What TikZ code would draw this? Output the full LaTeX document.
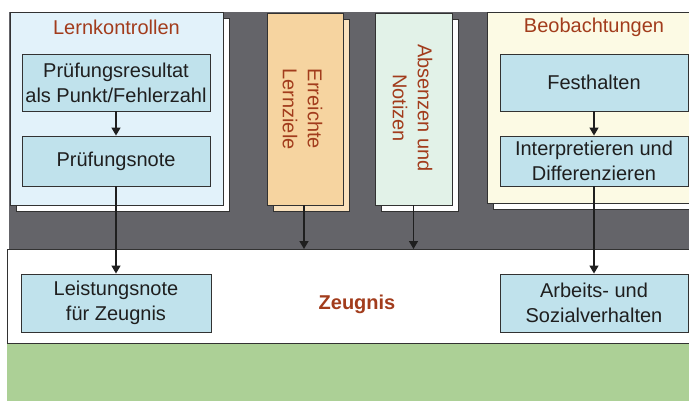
\documentclass[tikz,border=0pt]{standalone}
\usepackage{fontspec}
\setmainfont{Liberation Sans}
\usetikzlibrary{arrows.meta,shadows}

\definecolor{bandgray}{RGB}{100,100,105}
\definecolor{lernblue}{RGB}{226,242,250}
\definecolor{boxblue}{RGB}{192,226,236}
\definecolor{zielorange}{RGB}{246,212,160}
\definecolor{absmint}{RGB}{226,242,232}
\definecolor{beobyellow}{RGB}{252,250,228}
\definecolor{titlebrown}{RGB}{162,60,28}
\definecolor{greenfloor}{RGB}{172,208,150}
\definecolor{edgegray}{RGB}{50,50,50}

\begin{document}
\begin{tikzpicture}[x=1pt, y=-1pt,
    font=\fontsize{20}{25}\selectfont,
    panel/.style={draw=edgegray, line width=0.9pt, rectangle, inner sep=0pt, copy shadow={shadow xshift=6pt, shadow yshift=-6pt, fill=white, draw=edgegray}},
    title/.style={text=titlebrown, inner sep=0pt},
    box/.style={draw=edgegray, line width=0.9pt, fill=boxblue, rectangle, minimum width=188pt, inner sep=0pt, align=center, text=black!88},
    rotlabel/.style={rotate=-90, align=center, text=titlebrown, inner sep=0pt},
    arrow/.style={-{Triangle[length=8pt, width=9pt]}, line width=1.4pt, draw=black!88}
]
\useasboundingbox (0,0) rectangle (689,400);
\clip (0,0) rectangle (689,400);

% background bands
\fill[bandgray] (9,12) rectangle (700,249);
\node[draw=edgegray, line width=0.9pt, fill=white, rectangle, minimum width=693pt, minimum height=94pt, inner sep=0pt, anchor=north west] (zeugbox) at (7,249) {};
\fill[greenfloor] (7,343.5) rectangle (700,405);

% Lernkontrollen
\node[panel, fill=lernblue, minimum width=213pt, minimum height=193pt] (lern) at (116.5,108.5) {};
\node[title] (lerntitle) at (116.5,27) {Lernkontrollen};
\node[box, minimum height=57pt] (pres) at (116,82.5) {Prüfungsresultat\\als Punkt/Fehlerzahl};
\node[box, minimum height=50pt] (pnote) at (116,161) {Prüfungsnote};
\draw[arrow] (pres) -- (pnote);

% Erreichte Lernziele
\node[panel, fill=zielorange, copy shadow={shadow xshift=6pt, shadow yshift=-6pt, fill=zielorange!70!white, draw=edgegray}, minimum width=76pt, minimum height=192pt] (ziele) at (305,109) {};
\node[rotlabel] (zieltext) at (302.5,109) {Erreichte\\Lernziele};

% Absenzen und Notizen
\node[panel, fill=absmint, minimum width=77pt, minimum height=192pt] (absenz) at (413.5,109) {};
\node[rotlabel] (absenztext) at (412.5,108) {Absenzen und\\Notizen};

% Beobachtungen
\node[panel, fill=beobyellow, minimum width=212pt, minimum height=191pt] (beob) at (593,107.5) {};
\node[title] (beobtitle) at (594,27) {Beobachtungen};
\node[box, minimum height=57pt] (festh) at (594,82.5) {Festhalten};
\node[box, minimum height=50pt] (interp) at (594,161) {Interpretieren und\\Differenzieren};
\draw[arrow] (festh) -- (interp);

% Zeugnis
\node[text=titlebrown, font=\fontsize{20}{25}\selectfont\bfseries] (zeugtext) at (357,304) {Zeugnis};
\node[box, minimum width=190pt, minimum height=58pt] (lnote) at (116,303) {Leistungsnote\\für Zeugnis};
\node[box, minimum height=58pt] (arbeit) at (594,303) {Arbeits- und\\Sozialverhalten};

\draw[arrow] (pnote) -- (lnote);
\draw[arrow] (interp) -- (arbeit);
\draw[arrow] (ziele.south -| 304,0) -- (304,0 |- zeugbox.north);
\draw[arrow] (absenz.south) -- (absenz.south |- zeugbox.north);

\end{tikzpicture}
\end{document}
